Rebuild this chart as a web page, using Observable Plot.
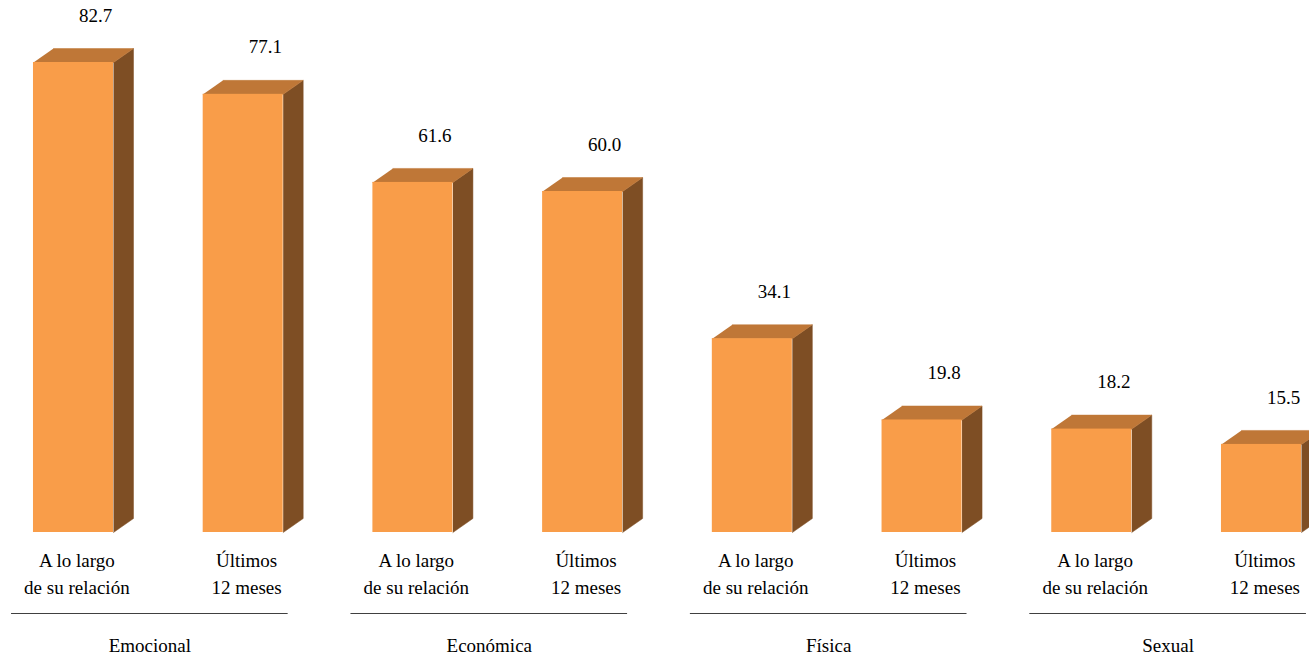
<!DOCTYPE html>
<html>
<head>
<meta charset="utf-8">
<script src="https://cdn.jsdelivr.net/npm/d3@7"></script>
<script src="https://cdn.jsdelivr.net/npm/@observablehq/plot@0.6"></script>
<style>
  html, body { margin: 0; padding: 0; background: #fff; }
  svg { display: block; }
</style>
</head>
<body>
<div id="chart"></div>
<script>
const categories = ["Emocional", "Económica", "Física", "Sexual"];
const periods = ["A lo largo\nde su relación", "Últimos\n12 meses"];
const values = [82.7, 77.1, 61.6, 60.0, 34.1, 19.8, 18.2, 15.5];
const valueLabels = ["82.7", "77.1", "61.6", "60.0", "34.1", "19.8", "18.2", "15.5"];

// styling / geometry constants (in scale units)
const HW = 0.2357;     // half bar width
const DX = 0.1179;     // depth offset in x
const DY = 2.46;       // depth offset in y
const FRONT = "#F99D49", TOP = "#BF7737", SIDE = "#7E4E24";
const FONT = "Liberation Serif, serif";

const bars = values.map((v, i) => ({
  i, value: v, label: valueLabels[i],
  period: periods[i % 2], group: categories[Math.floor(i / 2)]
}));

const topPts = bars.flatMap(b => [
  {id: b.i, x: b.i - HW, y: b.value},
  {id: b.i, x: b.i + HW, y: b.value},
  {id: b.i, x: b.i + HW + DX, y: b.value + DY},
  {id: b.i, x: b.i - HW + DX, y: b.value + DY}
]);
const sidePts = bars.flatMap(b => [
  {id: b.i, x: b.i + HW, y: 0},
  {id: b.i, x: b.i + HW + DX, y: DY},
  {id: b.i, x: b.i + HW + DX, y: b.value + DY},
  {id: b.i, x: b.i + HW, y: b.value}
]);

const groups = categories.map((c, g) => ({
  name: c, center: 2 * g + 0.5 - 0.05
}));

const chart = Plot.plot({
  width: 1309,
  height: 655,
  margin: 0,
  x: {domain: [-0.43, 7.283], range: [0, 1309], axis: null},
  y: {domain: [0, 82.7], range: [532, 62], axis: null},
  marks: [
    Plot.line(sidePts, {x: "x", y: "y", z: "id", fill: SIDE, stroke: SIDE, strokeWidth: 0.5}),
    Plot.line(topPts, {x: "x", y: "y", z: "id", fill: TOP, stroke: TOP, strokeWidth: 0.5}),
    Plot.rect(bars, {x1: d => d.i - HW, x2: d => d.i + HW, y1: 0, y2: "value", fill: FRONT}),
    Plot.text(bars, {x: d => d.i + 0.13, y: d => d.value + DY, text: "label", dy: -33,
      fontSize: 19, fontFamily: FONT, fill: "#000", lineAnchor: "middle"}),
    Plot.text(bars, {x: d => d.i + 0.02, y: 0, text: "period", dy: 39, fontSize: 19, fontFamily: FONT,
      fill: "#000", lineAnchor: "middle", lineHeight: 1.42}),
    Plot.ruleY(groups, {y: 0, x1: d => d.center - 0.815, x2: d => d.center + 0.815, dy: 81,
      stroke: "#404040", strokeWidth: 1}),
    Plot.text(groups, {x: "center", y: 0, text: "name", dy: 113, fontSize: 19, fontFamily: FONT,
      fill: "#000", lineAnchor: "middle"})
  ]
});
chart.setAttribute("font-family", FONT);
chart.style.setProperty("font-family", FONT, "important");
chart.querySelectorAll("g, text, tspan").forEach(el => {
  el.setAttribute("font-family", FONT);
  el.style.setProperty("font-family", FONT, "important");
});
document.getElementById("chart").append(chart);
</script>
</body>
</html>
